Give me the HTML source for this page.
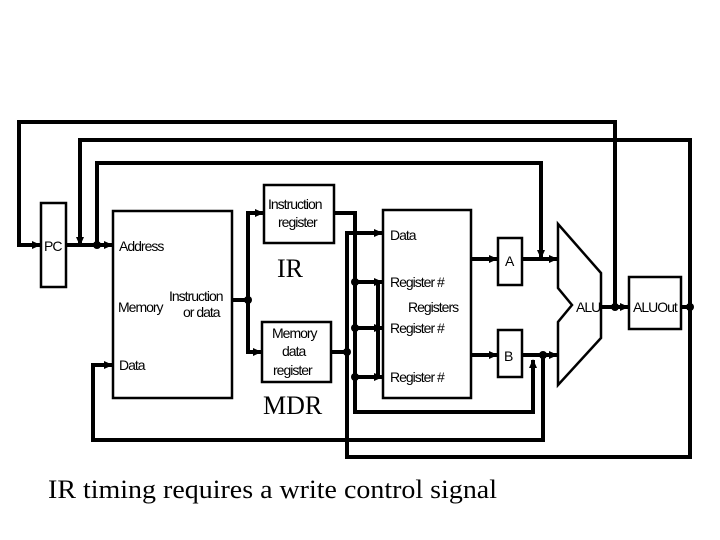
<!DOCTYPE html>
<html><head><style>body{margin:0;background:#fff}svg{display:block}</style></head>
<body>
<svg width="720" height="540" viewBox="0 0 720 540" xmlns="http://www.w3.org/2000/svg">
<defs>
<marker id="a" markerWidth="9" markerHeight="8" refX="8" refY="4" orient="auto" markerUnits="userSpaceOnUse"><path d="M0,0 L9,4 L0,8 z" fill="#000"/></marker>
</defs>
<g fill="none" stroke="#000" stroke-width="4" stroke-linejoin="miter">
<path d="M615,307 V122 H19 V245 H40" marker-end="url(#a)"/>
<path d="M690,307 V140 H80 V245" marker-end="url(#a)"/>
<path d="M690,307 V457 H347 V233 H382" marker-end="url(#a)"/>
<path d="M97,245 V163 H541 V258" marker-end="url(#a)"/>
<path d="M66,245 H112" marker-end="url(#a)"/>
<path d="M232,300 H248"/>
<path d="M248,300 V213 H263" marker-end="url(#a)"/>
<path d="M248,300 V352 H261" marker-end="url(#a)"/>
<path d="M331,352 H347"/>
<path d="M334,213 H355 V412 H533 V360" marker-end="url(#a)"/>
<path d="M355,282 H382" marker-end="url(#a)"/>
<path d="M355,328 H382" marker-end="url(#a)"/>
<path d="M355,377 H382" marker-end="url(#a)"/>
<path d="M378,282 V377"/>
<path d="M471,259 H497" marker-end="url(#a)"/>
<path d="M471,355 H497" marker-end="url(#a)"/>
<path d="M522,259 H557" marker-end="url(#a)"/>
<path d="M522,355 H557" marker-end="url(#a)"/>
<path d="M543,355 V440 H93 V365 H112" marker-end="url(#a)"/>
<path d="M602,307 H628" marker-end="url(#a)"/>
<path d="M681,307 H690"/>
</g>
<g fill="#000">
<circle cx="97" cy="245" r="4"/><circle cx="248" cy="300" r="4"/>
<circle cx="347" cy="352" r="4"/><circle cx="355" cy="282" r="4"/>
<circle cx="355" cy="328" r="4"/><circle cx="355" cy="377" r="4"/>
<circle cx="543" cy="355" r="4"/><circle cx="615" cy="307" r="4"/>
<circle cx="690" cy="307" r="4"/>
</g>
<g fill="#fff" stroke="#000" stroke-width="2.5">
<rect x="41" y="203" width="25" height="84"/>
<rect x="113" y="211" width="119" height="187"/>
<rect x="264" y="185" width="70" height="58"/>
<rect x="262" y="322" width="69" height="60"/>
<rect x="383" y="210" width="88" height="188"/>
<rect x="498" y="238" width="24" height="47"/>
<rect x="498" y="330" width="24" height="47"/>
<rect x="629" y="277" width="52" height="52"/>
<path d="M558,224 L601,273 L601,338 L558,385 L558,322 L572,305 L558,288 Z"/>
</g>
<g font-family="Liberation Sans, sans-serif" font-size="14" fill="#000" letter-spacing="-1">
<text x="44" y="251">PC</text>
<text x="119" y="251">Address</text>
<text x="118" y="312">Memory</text>
<text x="169" y="301">Instruction</text>
<text x="183" y="317">or data</text>
<text x="119" y="370">Data</text>
<text x="268" y="209">Instruction</text>
<text x="278" y="227">register</text>
<text x="272" y="338">Memory</text>
<text x="282" y="356">data</text>
<text x="273" y="375">register</text>
<text x="390" y="240">Data</text>
<text x="390" y="287">Register #</text>
<text x="408" y="312">Registers</text>
<text x="390" y="333">Register #</text>
<text x="390" y="382">Register #</text>
<text x="505" y="266">A</text>
<text x="504" y="361">B</text>
<text x="576" y="312">ALU</text>
<text x="633" y="312">ALUOut</text>
</g>
<g font-family="Liberation Serif, serif" font-size="26" fill="#000">
<text x="277" y="277">IR</text>
<text x="263" y="414">MDR</text>
<text x="48" y="498" textLength="449" lengthAdjust="spacingAndGlyphs">IR timing requires a write control signal</text>
</g>
</svg>
</body></html>
